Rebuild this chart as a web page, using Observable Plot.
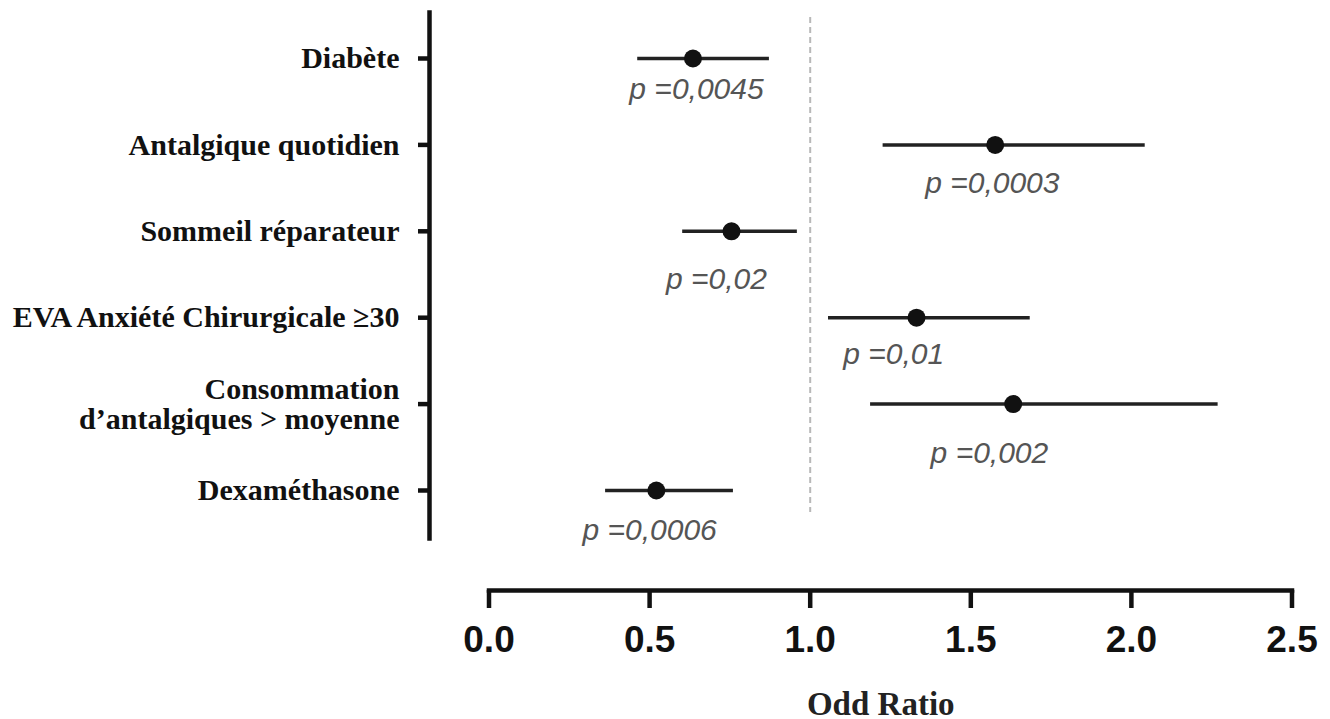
<!DOCTYPE html>
<html><head><meta charset="utf-8">
<script src="https://cdn.jsdelivr.net/npm/d3@7"></script>
<script src="https://cdn.jsdelivr.net/npm/@observablehq/plot@0.6"></script>
<style>
html,body{margin:0;padding:0;background:#fff;}
#chart svg{display:block;}
</style></head><body><div id="chart"></div>
<script>
// Data
const categories = [
  "Diabète",
  "Antalgique quotidien",
  "Sommeil réparateur",
  "EVA Anxiété Chirurgicale ≥30",
  "Consommation\nd’antalgiques > moyenne",
  "Dexaméthasone"
];
const oddsRatio = [0.635, 1.576, 0.755, 1.331, 1.632, 0.521];
const ciLow     = [0.463, 1.227, 0.603, 1.057, 1.188, 0.363];
const ciHigh    = [0.873, 2.043, 0.960, 1.685, 2.270, 0.761];
const pValues   = ["0,0045", "0,0003", "0,02", "0,01", "0,002", "0,0006"];
// annotation anchors for the p-value labels, in chart units (odds ratio, row)
const pLabelOR  = [0.646, 1.567, 0.708, 1.260, 1.558, 0.500];
const pLabelRow = [0.36, 1.44, 2.56, 3.43, 4.57, 5.46];
const xTicks = [0, 0.5, 1.0, 1.5, 2.0, 2.5];
const refLine = 1;
const xLabel = "Odd Ratio";

const rows = categories.map((c, i) => ({
  i, category: c, or: oddsRatio[i], lo: ciLow[i], hi: ciHigh[i],
  p: "p =" + pValues[i], px: pLabelOR[i], py: pLabelRow[i]
}));

const chart = Plot.plot({
  width: 1330, height: 719,
  marginLeft: 429, marginRight: 38.5, marginTop: 12, marginBottom: 129,
  style: {background: "#fff", color: "#111", overflow: "visible"},
  x: {domain: [0, 2.5], range: [488.5, 1291.5]},
  y: {domain: [0, 5], range: [58, 490]},
  marks: [
    Plot.frame({anchor: "left", insetBottom: 52, stroke: "#111", strokeWidth: 4.5}),
    Plot.frame({anchor: "bottom", insetLeft: 59.5, stroke: "#111", strokeWidth: 4.5}),
    Plot.ruleX([refLine], {stroke: "#b8b8b8", strokeWidth: 2, strokeDasharray: "6,4", insetTop: 5, insetBottom: 78}),
    Plot.axisY({ticks: rows.map(d => d.i), tickFormat: i => categories[i], tickSize: 11, tickPadding: 19,
      strokeWidth: 4.5, fontSize: 30, fontWeight: "bold", fontFamily: "Liberation Serif", lineHeight: 1.0, label: null}),
    Plot.axisX({ticks: xTicks, tickFormat: d => d.toFixed(1), tickSize: 18, tickPadding: 17,
      strokeWidth: 4.5, fontSize: 37, fontWeight: "bold", fontFamily: "Liberation Sans", label: null}),
    Plot.ruleY(rows, {y: "i", x1: "lo", x2: "hi", stroke: "#222", strokeWidth: 3.5}),
    Plot.dot(rows, {x: "or", y: "i", r: 9, fill: "#111", stroke: null}),
    Plot.text(rows, {x: "px", y: "py", text: "p", fontStyle: "italic", fontSize: 30,
      fontFamily: "Liberation Sans", fill: "#555"}),
    Plot.text([xLabel], {frameAnchor: "bottom", dx: 20, dy: 124, text: d => d,
      fontFamily: "Liberation Serif", fontWeight: "bold", fontSize: 33, fill: "#222"})
  ]
});
document.getElementById("chart").appendChild(chart);
</script>
</body></html>
